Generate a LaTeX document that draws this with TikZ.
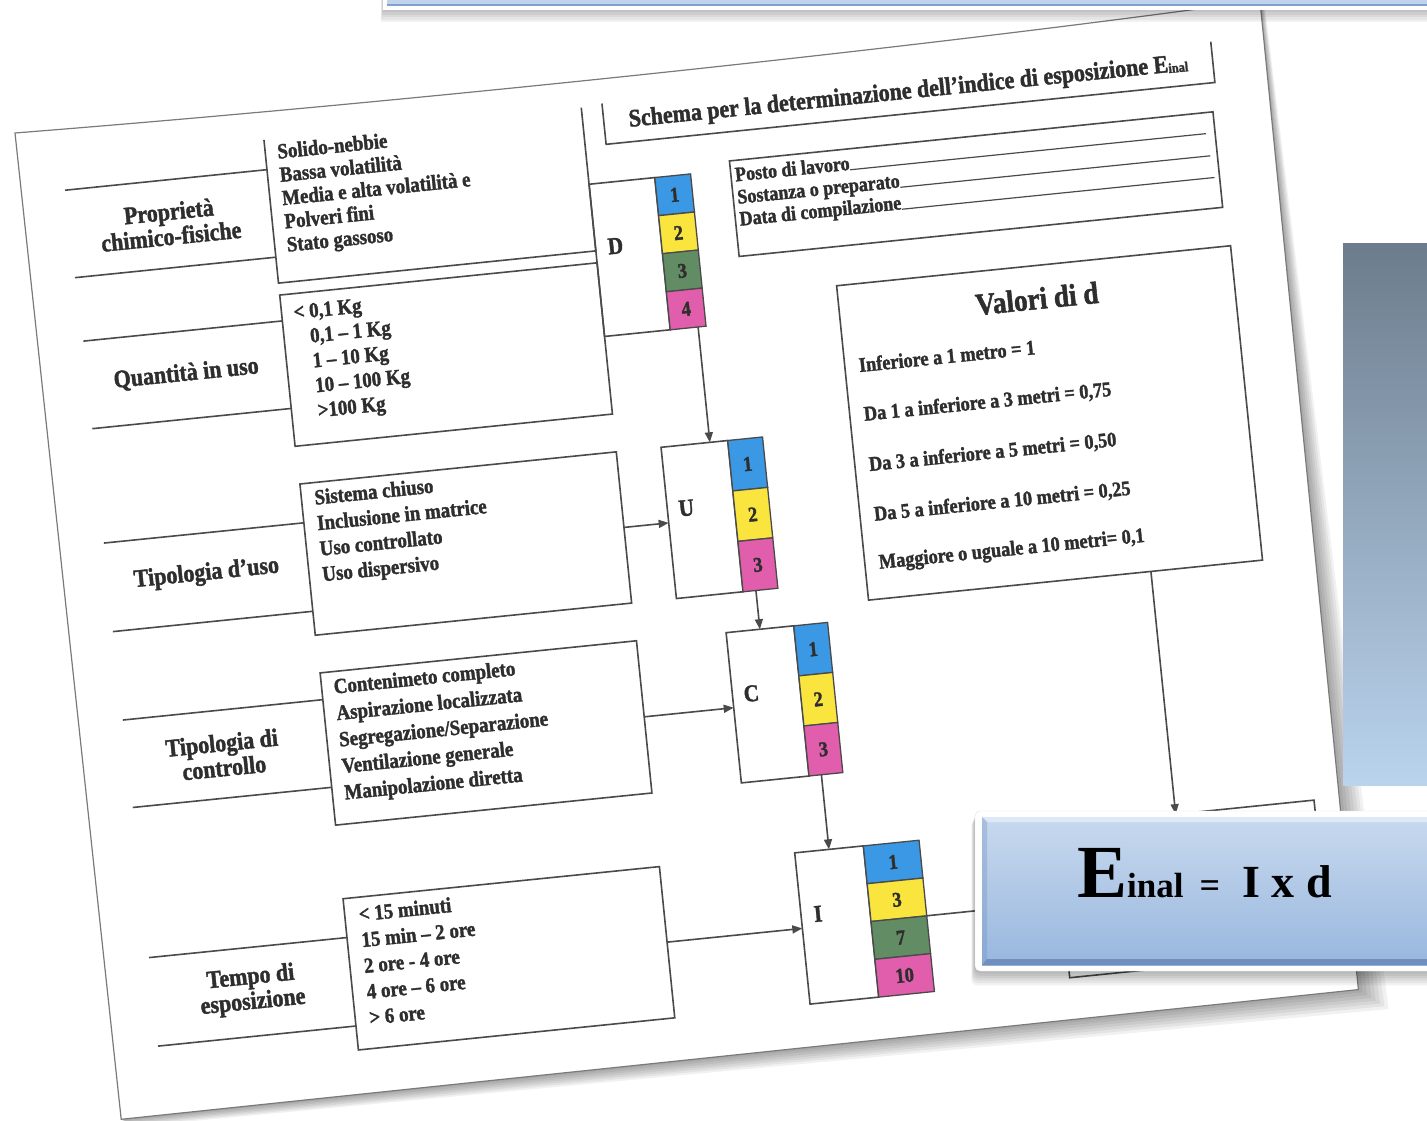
\documentclass[tikz,border=0pt]{standalone}
\usepackage{fontspec}
\setmainfont{Liberation Serif}
\newfontfamily\scanfont[FakeStretch=0.88, FakeBold=1.6]{Liberation Serif}
\usetikzlibrary{calc,arrows.meta}

\definecolor{ink}{HTML}{2E2E2E}
\definecolor{rule}{HTML}{4A4A4A}
\definecolor{edge}{HTML}{7A7A7A}
\definecolor{cblue}{RGB}{58,152,228}
\definecolor{cyellow}{RGB}{250,228,62}
\definecolor{cgreen}{RGB}{98,140,100}
\definecolor{cpink}{RGB}{224,94,172}
\definecolor{paneltop}{RGB}{108,124,140}
\definecolor{panelbot}{RGB}{186,212,238}
\definecolor{eqtop}{RGB}{200,217,238}
\definecolor{eqbot}{RGB}{152,183,222}
\definecolor{eqdark}{RGB}{112,142,190}
\definecolor{eqlight}{RGB}{222,233,247}
\definecolor{bannerblue}{RGB}{192,211,236}
\definecolor{bannerdark}{RGB}{130,160,205}

\tikzset{
  ln/.style={draw=rule, line width=1.6pt},
  arr/.style={ln, -{Triangle[length=10pt,width=8pt]}},
  frame/.style={inner sep=0pt, outer sep=0pt, anchor=north west},
  lettbox/.style={frame, draw=rule, line width=1.6pt},
  cell/.style={draw=rule, line width=1.3pt, inner sep=0pt, outer sep=0pt,
    text=ink, font=\scanfont\bfseries\fontsize{21}{21}\selectfont},
  rowlab/.style={text=ink, align=center, inner sep=0pt,
    font=\scanfont\bfseries\fontsize{25}{25}\selectfont},
  opts/.style={text=ink, align=left, anchor=north west, inner sep=0pt},
  letter/.style={text=ink, inner sep=0pt,
    font=\scanfont\bfseries\fontsize{24}{24}\selectfont},
  vline/.style={text=ink, anchor=west, inner sep=0pt,
    font=\scanfont\bfseries\fontsize{20.8}{20.8}\selectfont},
  infotext/.style={text=ink, anchor=base west, inner sep=0pt,
    font=\scanfont\bfseries\fontsize{20.5}{20.5}\selectfont},
}

\begin{document}
\begin{tikzpicture}[x=1pt,y=-1pt]
\useasboundingbox (0,0) rectangle (1427,1121);
\fill[white] (0,0) rectangle (1427,1121);
\begin{scope}
\clip (0,0) rectangle (1427,1121);

% ---------- the sheet, in its own tilted frame ----------
\begin{scope}[shift={(15,133)}, rotate=5.8, transform shape]
  % soft shadow under the sheet
  \foreach \k in {1,...,7} {
    \fill[black, opacity=0.055]
      ({\k*0.3},{\k*0.3}) .. controls (400,{9+\k*0.6}) and (900,{7+\k*0.8}) ..
      ({1252+\k*0.6},{-6+\k*0.6}) -- ({1250+\k*4},{988+\k*3.2}) --
      ({6+\k*0.5},{992+\k*1.2}) -- cycle;
  }
  % sheet
  \fill[white] (0,0) .. controls (400,9) and (900,7) .. (1252,-6)
    -- (1250,988) -- (6,992) -- cycle;
  \draw[edge, line width=1.2pt] (0,0) .. controls (400,9) and (900,7) .. (1252,-6)
    -- (1250,988) -- (6,992) -- cycle;

  % heading
  \node[frame, minimum width=612pt, minimum height=41pt] (title) at (587,30) {};
  \draw[ln] (title.north west) -- (title.south west) -- (title.south east) -- (title.north east);
  \node[text=ink, inner sep=0pt, font=\scanfont\bfseries\fontsize{25}{25}\selectfont] (ttext) at (893,50)
    {Schema per la determinazione dell’indice di esposizione E\raisebox{-1pt}{\fontsize{14}{14}\selectfont inal}};

  % identification block
  \node[lettbox, minimum width=486pt, minimum height=96pt] (info) at (708,100) {};
  \node[infotext] (p1) at (712,121) {Posto di lavoro};
  \node[infotext] (p2) at (712,143.5) {Sostanza o preparato};
  \node[infotext] (p3) at (712,165.5) {Data di compilazione};
  \coordinate (p1e) at (1185,121);
  \coordinate (p2e) at (1187,143.5);
  \coordinate (p3e) at (1189,165.5);
  \draw[ln, line width=1.2pt] (p1.base east) -- (p1e);
  \draw[ln, line width=1.2pt] (p2.base east) -- (p2e);
  \draw[ln, line width=1.2pt] (p3.base east) -- (p3e);

  % option boxes
  \node[frame, minimum width=319pt, minimum height=144pt] (box1) at (247,32) {};
  \draw[ln] (box1.north west) -- (box1.south west) -- (box1.south east) -- (box1.north east);
  \node[lettbox, minimum width=319pt, minimum height=152pt] (box2) at (247,188) {};
  \node[lettbox, minimum width=318pt, minimum height=152pt] (box3) at (248,378) {};
  \node[lettbox, minimum width=318pt, minimum height=153pt] (box4) at (249,568) {};
  \node[lettbox, minimum width=318pt, minimum height=152pt] (box5) at (249,795) {};

  \node[opts, font=\scanfont\bfseries\fontsize{21.5}{23.4}\selectfont] (t1) at (259,37)
    {Solido-nebbie\\Bassa volatilità\\Media e alta volatilità e\\Polveri fini\\Stato gassoso};
  \node[opts, font=\scanfont\bfseries\fontsize{21.5}{25}\selectfont] (t2) at (259,199)
    {< 0,1 Kg\\\hspace*{14pt}0,1 – 1 Kg\\\hspace*{14pt}1 – 10 Kg\\\hspace*{14pt}10 – 100 Kg\\\hspace*{14pt}>100 Kg};
  \node[opts, font=\scanfont\bfseries\fontsize{21.5}{25.7}\selectfont] (t3) at (261,385)
    {Sistema chiuso\\Inclusione in matrice\\Uso controllato\\Uso dispersivo};
  \node[opts, font=\scanfont\bfseries\fontsize{21.5}{26.6}\selectfont] (t4) at (261,575)
    {Contenimeto completo\\Aspirazione localizzata\\Segregazione/Separazione\\Ventilazione generale\\Manipolazione diretta};
  \node[opts, font=\scanfont\bfseries\fontsize{21.5}{26}\selectfont] (t5) at (263,804)
    {< 15 minuti\\15 min – 2 ore\\2 ore - 4 ore\\4 ore – 6 ore\\> 6 ore};

  % row labels and their rules
  \node[rowlab] (lab1) at (145,106) {Proprietà\\chimico-fisiche};
  \node[rowlab] (lab2) at (146,257) {Quantità in uso};
  \node[rowlab] (lab3) at (146,458) {Tipologia d’uso};
  \node[rowlab] (lab4) at (144,640) {Tipologia di\\controllo};
  \node[rowlab] (lab5) at (149,877) {Tempo di\\esposizione};

  \coordinate (r1t) at (44,62);   \coordinate (r1b) at (45,150);
  \coordinate (r2t) at (47,214);  \coordinate (r2b) at (47,302);
  \coordinate (r3t) at (47,417);  \coordinate (r3b) at (47,506);
  \coordinate (r4t) at (48,595);  \coordinate (r4b) at (49,683);
  \coordinate (r5t) at (50,834);  \coordinate (r5b) at (50,923);
  \draw[ln] (r1t) -- ($(box1.north west)!0.208!(box1.south west)$);
  \draw[ln] (r1b) -- ($(box1.north west)!0.819!(box1.south west)$);
  \draw[ln] (r2t) -- ($(box2.north west)!0.171!(box2.south west)$);
  \draw[ln] (r2b) -- ($(box2.north west)!0.750!(box2.south west)$);
  \draw[ln] (r3t) -- ($(box3.north west)!0.257!(box3.south west)$);
  \draw[ln] (r3b) -- ($(box3.north west)!0.842!(box3.south west)$);
  \draw[ln] (r4t) -- ($(box4.north west)!0.176!(box4.south west)$);
  \draw[ln] (r4b) -- ($(box4.north west)!0.752!(box4.south west)$);
  \draw[ln] (r5t) -- ($(box5.north west)!0.257!(box5.south west)$);
  \draw[ln] (r5b) -- ($(box5.north west)!0.842!(box5.south west)$);

  % factor boxes with their coloured scales
  \node[lettbox, minimum width=66pt, minimum height=153pt] (D) at (566,109) {};
  \node[cell, fill=cblue,   minimum width=36pt, minimum height=38.25pt] (D1) at (650,128.1) {1};
  \node[cell, fill=cyellow, minimum width=36pt, minimum height=38.25pt] (D2) at (650,166.4) {2};
  \node[cell, fill=cgreen,  minimum width=36pt, minimum height=38.25pt] (D3) at (650,204.6) {3};
  \node[cell, fill=cpink,   minimum width=36pt, minimum height=38.25pt] (D4) at (650,242.9) {4};
  \node[letter] (Dl) at (586,173) {D};

  \node[lettbox, minimum width=67pt, minimum height=152pt] (U) at (611,378) {};
  \node[cell, fill=cblue,   minimum width=35pt, minimum height=50.67pt] (U1) at (695.5,403.3) {1};
  \node[cell, fill=cyellow, minimum width=35pt, minimum height=50.67pt] (U2) at (695.5,454) {2};
  \node[cell, fill=cpink,   minimum width=35pt, minimum height=50.67pt] (U3) at (695.5,504.7) {3};
  \node[letter] (Ul) at (630,441) {U};

  \node[lettbox, minimum width=68pt, minimum height=151pt] (C) at (657,569) {};
  \node[cell, fill=cblue,   minimum width=34pt, minimum height=50.33pt] (C1) at (742,594.2) {1};
  \node[cell, fill=cyellow, minimum width=34pt, minimum height=50.33pt] (C2) at (742,644.5) {2};
  \node[cell, fill=cpink,   minimum width=34pt, minimum height=50.33pt] (C3) at (742,694.8) {3};
  \node[letter] (Cl) at (676,632) {C};

  \node[lettbox, minimum width=69pt, minimum height=152pt] (I) at (703,795) {};
  \node[cell, fill=cblue,   minimum width=56pt, minimum height=38pt] (I1) at (800,814) {1};
  \node[cell, fill=cyellow, minimum width=56pt, minimum height=38pt] (I2) at (800,852) {3};
  \node[cell, fill=cgreen,  minimum width=56pt, minimum height=38pt] (I3) at (800,890) {7};
  \node[cell, fill=cpink,   minimum width=56pt, minimum height=38pt] (I4) at (800,928) {10};
  \node[letter] (Il) at (720,858) {I};

  % distance table
  \node[lettbox, minimum width=396pt, minimum height=316pt] (valori) at (802,235) {};
  \node[text=ink, inner sep=0pt, font=\scanfont\bfseries\fontsize{31}{31}\selectfont] (vtitle) at (1000,268) {Valori di d};
  \node[vline] (v1) at (816,316) {Inferiore a 1 metro = 1};
  \node[vline] (v2) at (816,366.5) {Da 1 a inferiore a 3 metri = 0,75};
  \node[vline] (v3) at (816,417) {Da 3 a inferiore a 5 metri = 0,50};
  \node[vline] (v4) at (816,467) {Da 5 a inferiore a 10 metri = 0,25};
  \node[vline] (v5) at (816,516) {Maggiore o uguale a 10 metri= 0,1};

  % result box
  \node[lettbox, minimum width=261pt, minimum height=152pt] (res) at (964,795) {};

  % connectors
  \draw[arr] ($(D4.south west)!0.78!(D4.south east)$) -- ($(U.north west)!0.733!(U.north east)$);
  \draw[arr] ($(U3.south west)!0.371!(U3.south east)$) -- (C.north);
  \draw[arr] ($(C3.south west)!0.368!(C3.south east)$) -- (I.north);
  \draw[arr] (box3.east) -- (U.west);
  \draw[arr] (box4.east) -- (C.west);
  \draw[arr] (box5.east) -- (I.west);
  \draw[ln] (I2.south east) -- (res.west);
  \draw[arr] ($(valori.south west)!0.717!(valori.south east)$) -- ($(res.north west)!0.4674!(res.north east)$);
\end{scope}

% ---------- slide elements over the sheet ----------
% side panel
\shade[top color=paneltop, bottom color=panelbot] (1343,243) rectangle (1430,785);

% top banner
\foreach \k in {1,...,5} {
  \fill[black, opacity=0.05] ({383-\k*0.4},-10) rectangle (1440,{10+\k*2.4});
}
\fill[white] (383,-10) rectangle (1440,10);
\fill[bannerblue] (387,-10) rectangle (1440,6.5);
\fill[bannerdark] (387,4) rectangle (1440,6.5);

% formula box
\foreach \k in {1,...,6} {
  \fill[black, opacity=0.05, rounded corners=6pt] ({975-\k*0.6},{811+\k*1.6}) rectangle (1440,{971+\k*2.4});
}
\node[frame, fill=white, draw=black!10, rounded corners=5pt, minimum width=470pt, minimum height=160pt] (eqframe) at (975,811) {};
\shade[top color=eqtop, bottom color=eqbot] (982,817) rectangle (1440,965);
\fill[eqlight] (982,817) -- (1440,817) -- (1440,822) -- (987,822) -- cycle;
\fill[eqdark] (982,965) -- (1440,965) -- (1440,959) -- (987,959) -- cycle;
\fill[eqdark, opacity=0.35] (982,817) -- (987,822) -- (987,959) -- (982,965) -- cycle;
\node[anchor=base west, inner sep=0pt, font=\bfseries, text=black] (eq) at (1077,897)
  {{\fontsize{75}{75}\selectfont E}{\fontsize{35}{35}\selectfont inal}\hspace{16pt}{\fontsize{36}{36}\selectfont =}\hspace{22pt}{\fontsize{46}{46}\selectfont I x d}};
\end{scope}
\end{tikzpicture}
\end{document}
